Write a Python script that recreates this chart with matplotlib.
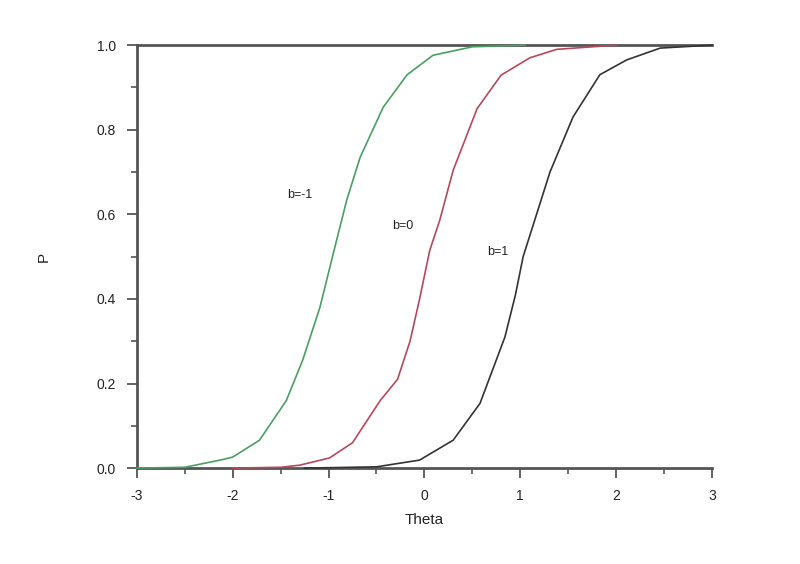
import matplotlib
matplotlib.use('Agg')
import matplotlib.pyplot as plt
from matplotlib.ticker import MultipleLocator

plt.rcParams['font.family'] = ['Liberation Sans', 'DejaVu Sans']
plt.rcParams['axes.unicode_minus'] = False

# curves (theta, P)
theta_b_m1 = [-3.0, -2.5, -2.13, -2.0, -1.72, -1.44, -1.27, -1.09, -0.95, -0.81, -0.67, -0.43, -0.18, 0.09, 0.5, 1.05]
p_b_m1 = [0.0, 0.002, 0.019, 0.026, 0.066, 0.16, 0.255, 0.38, 0.508, 0.634, 0.735, 0.853, 0.93, 0.976, 0.996, 1.0]

theta_b_0 = [-2.0, -1.5, -1.30, -0.99, -0.75, -0.46, -0.28, -0.15, -0.05, 0.056, 0.16, 0.30, 0.55, 0.80, 1.1, 1.38, 2.0]
p_b_0 = [0.0, 0.002, 0.007, 0.024, 0.06, 0.16, 0.21, 0.30, 0.40, 0.515, 0.586, 0.704, 0.85, 0.929, 0.97, 0.99, 1.0]

theta_b_1 = [-1.25, -0.5, -0.05, 0.30, 0.58, 0.84, 0.95, 1.03, 1.31, 1.55, 1.83, 2.11, 2.46, 3.0]
p_b_1 = [0.0, 0.003, 0.019, 0.066, 0.153, 0.31, 0.41, 0.50, 0.70, 0.83, 0.93, 0.965, 0.993, 1.0]

labels = ['b=-1', 'b=0', 'b=1']
label_pos = [(-1.30, 0.646), (-0.23, 0.572), (0.77, 0.51)]
colors = ['#4a9e62', '#b5485a', '#333333']

fig = plt.figure(figsize=(8, 5.64), dpi=100)
ax = fig.add_axes([0.171, 0.170, 0.719, 0.750])

series = [(theta_b_m1, p_b_m1), (theta_b_0, p_b_0), (theta_b_1, p_b_1)]
for (t, p), c in zip(series, colors):
    ax.plot(t, p, color=c, lw=1.2, zorder=3, clip_on=False)

for lab, (x, y) in zip(labels, label_pos):
    ax.text(x, y, lab, fontsize=9, color='#222222', ha='center', va='center')

ax.set_xlim(-3, 3)
ax.set_ylim(0, 1)
ax.xaxis.set_major_locator(MultipleLocator(1))
ax.xaxis.set_minor_locator(MultipleLocator(0.5))
ax.yaxis.set_major_locator(MultipleLocator(0.2))
ax.yaxis.set_minor_locator(MultipleLocator(0.1))
ax.set_yticklabels(['%.1f' % v for v in ax.get_yticks()])

for side in ['left', 'bottom', 'top']:
    ax.spines[side].set_color('#555555')
    ax.spines[side].set_linewidth(2)
ax.spines['right'].set_visible(False)

ax.tick_params(which='major', direction='out', length=7, width=1.3, color='#555555',
               labelsize=10, labelcolor='#222222', pad=8)
ax.tick_params(which='minor', direction='out', length=4, width=1.2, color='#555555')
ax.tick_params(top=False, right=False, which='both')

ax.set_xlabel('Theta', fontsize=11, color='#222222', labelpad=7)
ax.set_ylabel('P', fontsize=11, color='#222222', labelpad=33)

fig.savefig('out.png', dpi=100)
